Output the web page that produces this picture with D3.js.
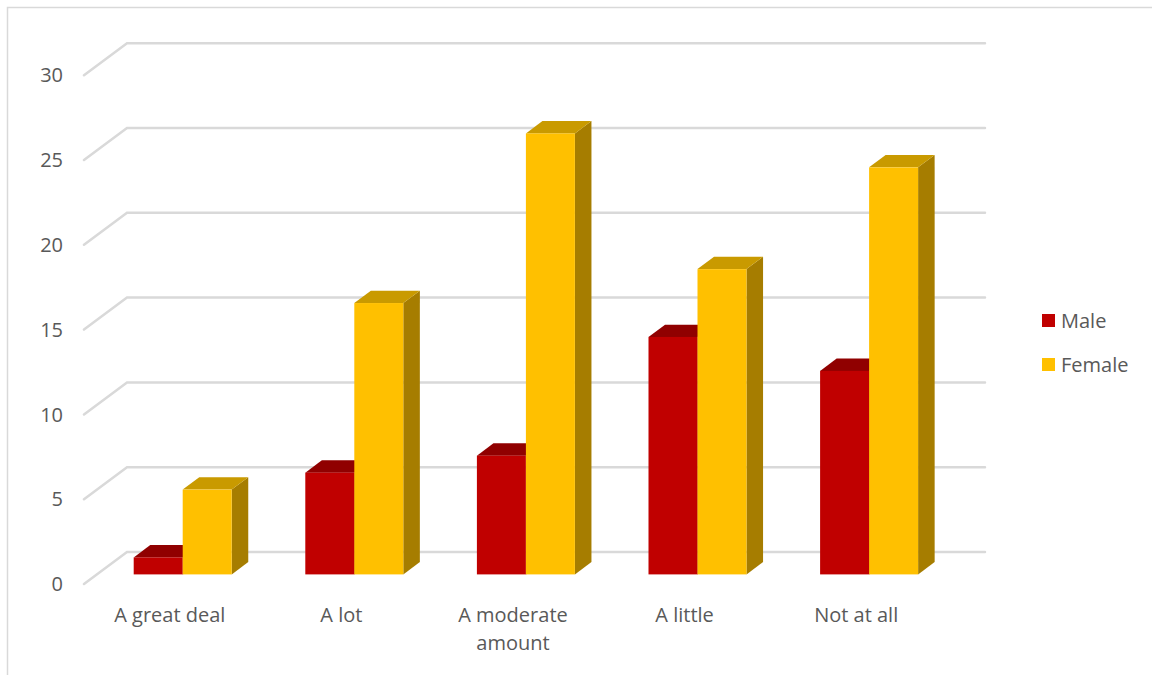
<!DOCTYPE html>
<html>
<head>
<meta charset="utf-8">
<script src="https://cdn.jsdelivr.net/npm/d3@7"></script>
<style>
  html, body { margin: 0; padding: 0; background: #fff; }
  svg { display: block; font-family: "Open Sans", Lato, sans-serif; }
</style>
</head>
<body>
<svg id="chart" width="1152" height="675"></svg>
<script>
// Survey responses by gender
const categories = ["A great deal", "A lot", "A moderate amount", "A little", "Not at all"];
const seriesNames = ["Male", "Female"];
const maleValues = [1, 6, 7, 14, 12];
const femaleValues = [5, 16, 26, 18, 24];
const yTicks = [0, 5, 10, 15, 20, 25, 30];

const seriesValues = { Male: maleValues, Female: femaleValues };
const palette = {
  Male:   { front: "#C00000", top: "#900000", side: "#860000" },
  Female: { front: "#FFC000", top: "#C99A00", side: "#A67D00" }
};
const FONT_SIZE = 20;

const svg = d3.select("#chart");

// Chart frame
svg.append("rect")
  .attr("x", 7.5).attr("y", 7.5)
  .attr("width", 1160).attr("height", 680)
  .attr("fill", "none").attr("stroke", "#D9D9D9").attr("stroke-width", 1.5);

// Oblique projection: depth 0 = front plane, depth 1 = back wall
const DEPTH_X = 43, DEPTH_Y = 32;
const proj = (x, y, z) => [x + z * DEPTH_X, y - z * DEPTH_Y];

const y = d3.scaleLinear().domain([0, 30]).range([584, 75.2]);
const x0 = d3.scaleBand().domain(categories).range([84, 942]).paddingInner(0).paddingOuter(0);
const barW = 49;
const groupPad = (x0.bandwidth() / (2 * barW) - 1);
const x1 = d3.scaleBand().domain(seriesNames).range([0, x0.bandwidth()])
  .paddingInner(0).paddingOuter(groupPad);

const barZ0 = 0.30, barZ1 = 0.685;

// Gridlines: diagonal on the side wall + horizontal on the back wall
const grid = svg.append("g").attr("fill", "none").attr("stroke", "#D9D9D9")
  .attr("stroke-width", 2.5).attr("stroke-linecap", "round");
yTicks.forEach(t => {
  const a = proj(x0.range()[0], y(t), 0);
  const b = proj(x0.range()[0], y(t), 1);
  const c = proj(x0.range()[1], y(t), 1);
  grid.append("polyline").attr("points", [a, b, c].map(p => p.join(",")).join(" "));
});

// Y tick labels
svg.append("g").selectAll("text").data(yTicks).join("text")
  .attr("x", 63).attr("y", d => y(d))
  .attr("dy", "0.36em")
  .attr("text-anchor", "end")
  .attr("font-size", FONT_SIZE)
  .attr("fill", "#595959")
  .text(d => d);

// 3D columns
const bars = svg.append("g");
categories.forEach((cat, i) => {
  seriesNames.forEach(s => {
    const v = seriesValues[s][i];
    const xl = x0(cat) + x1(s), xr = xl + x1.bandwidth();
    const yt = y(v), yb = y(0);
    const col = palette[s];
    const pt = (xx, yy, zz) => proj(xx, yy, zz).join(",");
    // right side face
    bars.append("polygon")
      .attr("points", [pt(xr, yt, barZ0), pt(xr, yt, barZ1), pt(xr, yb, barZ1), pt(xr, yb, barZ0)].join(" "))
      .attr("fill", col.side);
    // top face
    bars.append("polygon")
      .attr("points", [pt(xl, yt, barZ0), pt(xl, yt, barZ1), pt(xr, yt, barZ1), pt(xr, yt, barZ0)].join(" "))
      .attr("fill", col.top);
    // front face
    const f0 = proj(xl, yt, barZ0);
    bars.append("rect")
      .attr("x", f0[0]).attr("y", f0[1])
      .attr("width", xr - xl).attr("height", yb - yt)
      .attr("fill", col.front);
  });
});

// Category labels (wrapped when too wide)
const catLabels = svg.append("g").attr("font-size", FONT_SIZE).attr("fill", "#595959").attr("text-anchor", "middle");
categories.forEach(cat => {
  const cx = x0(cat) + x0.bandwidth() / 2;
  const t = catLabels.append("text").attr("x", cx).attr("y", 615);
  const words = cat.split(" ");
  let line = [], tspan = t.append("tspan").attr("x", cx).attr("dy", "0.36em");
  words.forEach(w => {
    line.push(w);
    tspan.text(line.join(" "));
    if (tspan.node().getComputedTextLength() > 150 && line.length > 1) {
      line.pop();
      tspan.text(line.join(" "));
      line = [w];
      tspan = t.append("tspan").attr("x", cx).attr("dy", 28).text(w);
    }
  });
});

// Legend
const legend = svg.append("g");
seriesNames.forEach((s, i) => {
  const ly = 321 + i * 44;
  legend.append("rect").attr("x", 1042).attr("y", ly - 7).attr("width", 13).attr("height", 13)
    .attr("fill", palette[s].front);
  legend.append("text").attr("x", 1061).attr("y", ly).attr("dy", "0.36em")
    .attr("font-size", FONT_SIZE).attr("fill", "#595959").text(s);
});
</script>
</body>
</html>
